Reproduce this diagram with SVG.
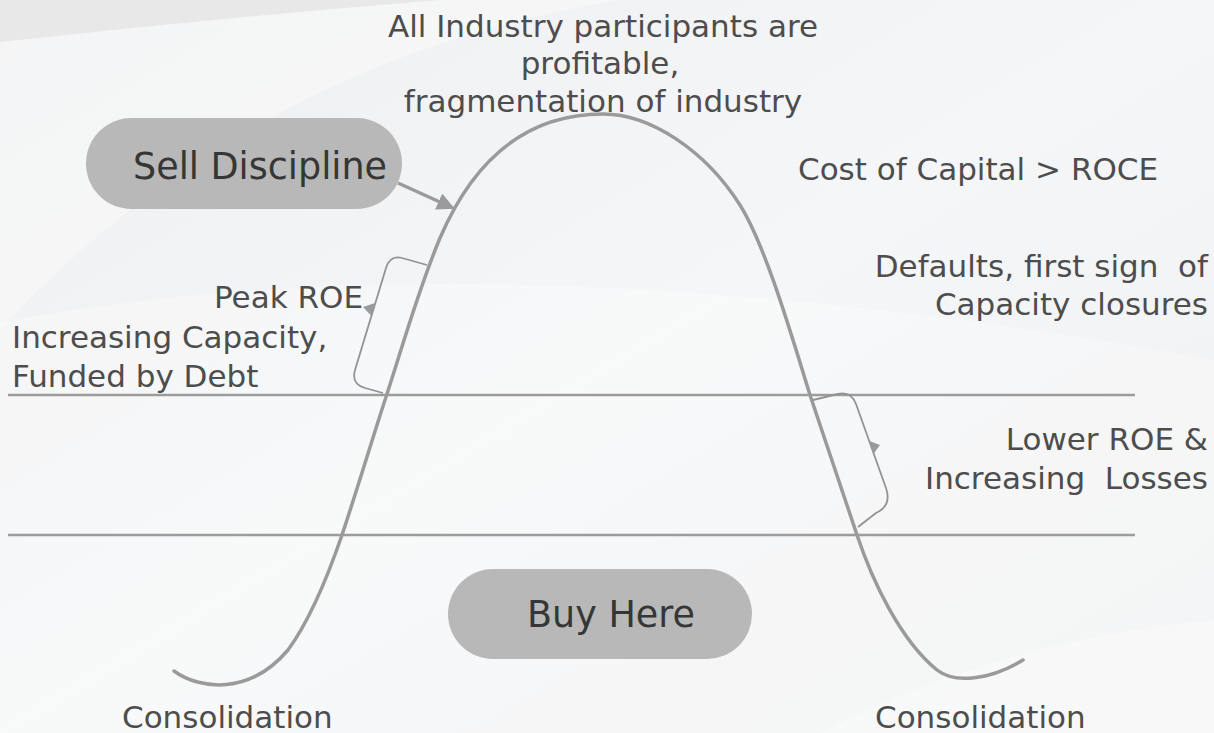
<svg xmlns="http://www.w3.org/2000/svg" width="1214" height="733" viewBox="0 0 1214 733">
  <defs>
    <linearGradient id="bg" x1="0" y1="0" x2="1" y2="1">
      <stop offset="0" stop-color="#eeeff0"/>
      <stop offset="0.5" stop-color="#f5f6f7"/>
      <stop offset="1" stop-color="#eff0f1"/>
    </linearGradient>
    <marker id="arrow" viewBox="0 0 10 10" refX="9" refY="5" markerWidth="5" markerHeight="5" orient="auto" markerUnits="strokeWidth">
      <path d="M0,0 L10,5 L0,10 Z" fill="#9b9b9c"/>
    </marker>
    <style>
      .txt { font-family: "DejaVu Sans", "Liberation Sans", sans-serif; font-size: 31px; fill: #4d4d4d; white-space: pre; }
      .pilltxt { font-family: "DejaVu Sans", "Liberation Sans", sans-serif; font-size: 36.5px; fill: #363636; }
      .pill { fill: #b7b8b7; }
      .curve { fill: none; stroke: #9a9a9b; stroke-width: 3.5; stroke-linecap: round; }
      .hline { stroke: #9c9c9d; stroke-width: 2.5; }
      .bracket { fill: none; stroke: #939394; stroke-width: 1.8; stroke-linejoin: round; }
      .tri { fill: #999a9b; }
    </style>
  </defs>

  <g id="background">
    <rect width="1214" height="733" fill="url(#bg)"/>
    <path d="M0,0 H440 Q220,18 0,42 Z" fill="#e8e8e9"/>
    <path d="M0,42 Q220,18 440,0 H620 Q250,60 0,330 Z" fill="#ffffff" opacity="0.35"/>
    <path d="M0,322 Q500,230 1214,360 V733 H0 Z" fill="#ffffff" opacity="0.3"/>
    <path d="M820,733 Q1000,640 1214,620 V733 Z" fill="#ffffff" opacity="0.35"/>
  </g>

  <g id="connectors">
    <line class="hline" x1="8" y1="395" x2="1135" y2="395"/>
    <line class="hline" x1="8" y1="535" x2="1135" y2="535"/>
    <path id="cycle-curve" class="curve" d="M174,671 C200,690 250,695 288,650 C310,620 330,570 342,535 C357,490 372,440 385,400 C400,355 418,290 440,238 C480,145 540,114 603,114 C650,114 705,150 740,205 C765,245 790,330 810,395 C825,440 842,490 857,535 C872,580 900,640 937,670 C955,684 990,680 1023,660"/>
    <line x1="398" y1="183" x2="453" y2="208" stroke="#9b9b9c" stroke-width="3.5" marker-end="url(#arrow)"/>
    <path class="bracket" d="M427,265 L402,258 Q390,255 386,268 L355,370 Q351,384 365,388 L383,393"/>
    <polygon class="tri" points="363,307 371.5,316 375,303"/>
    <path class="bracket" d="M813,400 L838,394 Q851,391 856,404 L886,488 Q892,506 876,513 L858,527"/>
    <polygon class="tri" points="880,445 873.5,454 869.5,441"/>
  </g>

  <g id="node-peak-text">
    <text class="txt" x="603" y="37" text-anchor="middle">All Industry participants are</text>
    <text class="txt" x="600" y="74" text-anchor="middle">profitable,</text>
    <text class="txt" x="603" y="112" text-anchor="middle">fragmentation of industry</text>
  </g>

  <g id="node-sell-discipline">
    <rect class="pill" x="86" y="118" width="316" height="91" rx="45.5"/>
    <text class="pilltxt" x="133" y="179">Sell Discipline</text>
  </g>

  <g id="node-cost-of-capital">
    <text class="txt" x="798" y="180">Cost of Capital &gt; ROCE</text>
  </g>

  <g id="node-defaults">
    <text class="txt" x="1208" y="277" text-anchor="end">Defaults, first sign  of</text>
    <text class="txt" x="1208" y="315" text-anchor="end">Capacity closures</text>
  </g>

  <g id="node-peak-roe">
    <text class="txt" x="363" y="308" text-anchor="end">Peak ROE</text>
    <text class="txt" x="12" y="348">Increasing Capacity,</text>
    <text class="txt" x="12" y="387">Funded by Debt</text>
  </g>

  <g id="node-lower-roe">
    <text class="txt" x="1208" y="450" text-anchor="end">Lower ROE &amp;</text>
    <text class="txt" x="1208" y="489" text-anchor="end">Increasing  Losses</text>
  </g>

  <g id="node-buy-here">
    <rect class="pill" x="448" y="569" width="304" height="90" rx="45"/>
    <text class="pilltxt" x="527" y="627">Buy Here</text>
  </g>

  <g id="node-consolidation-left">
    <text class="txt" x="122" y="728">Consolidation</text>
  </g>

  <g id="node-consolidation-right">
    <text class="txt" x="875" y="728">Consolidation</text>
  </g>
</svg>
